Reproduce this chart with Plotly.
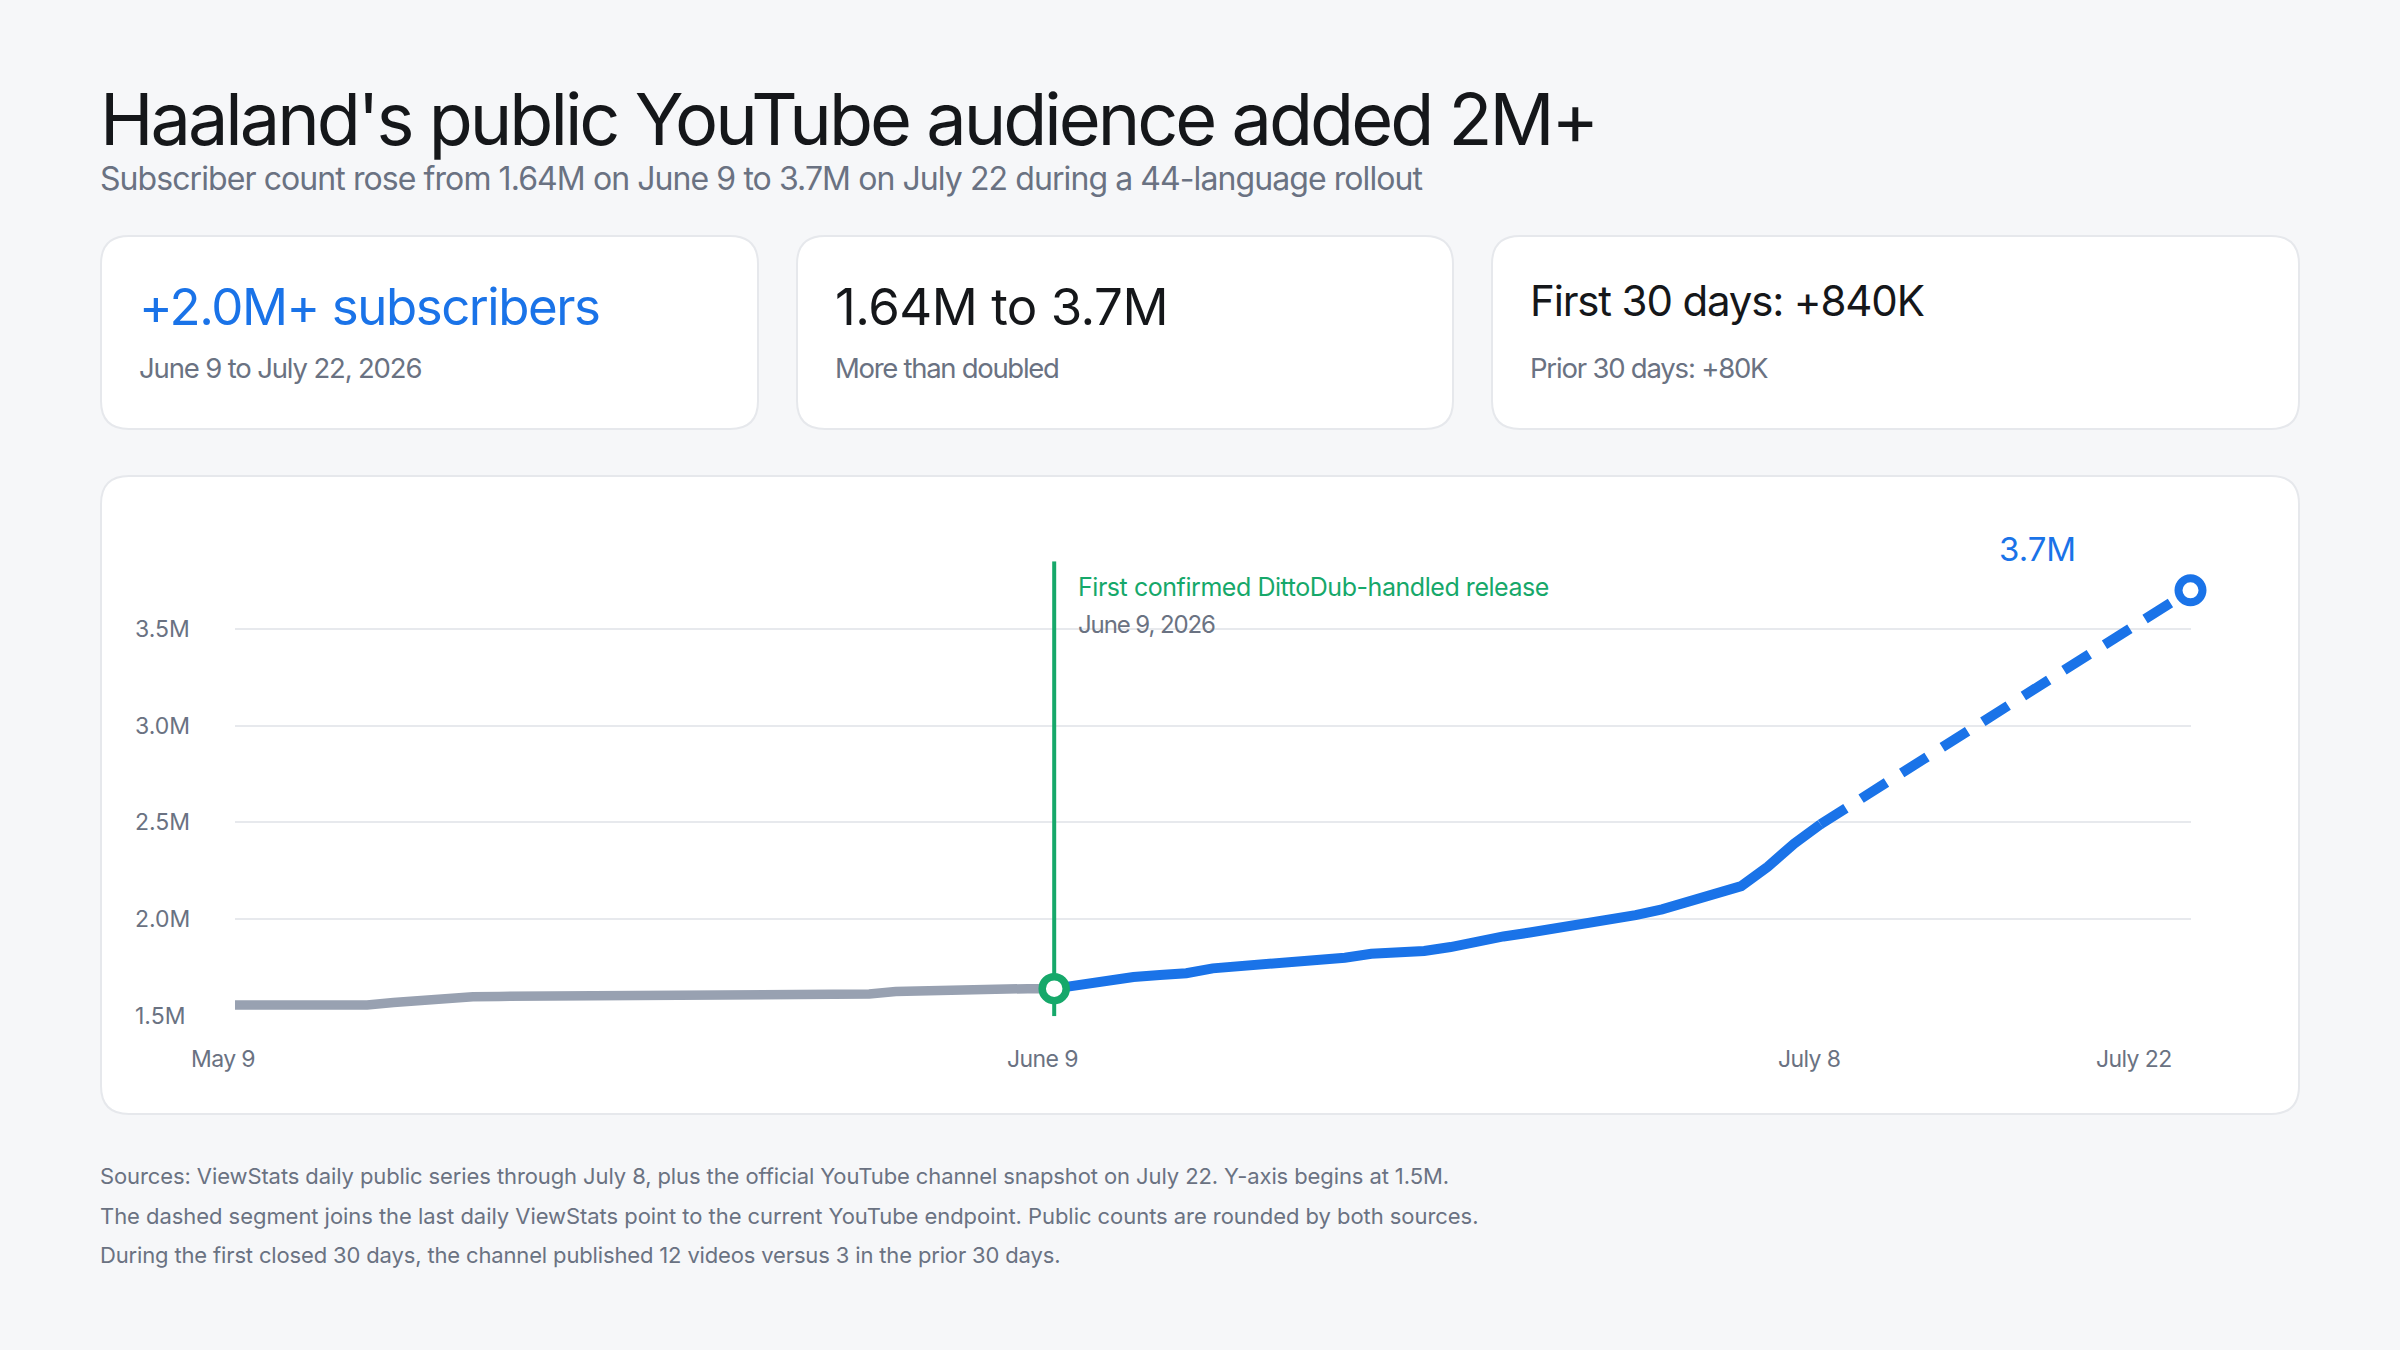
import plotly.graph_objects as go
import pandas as pd

W, H = 2400, 1350

# ---------------- data ----------------
pre_dates = pd.date_range("2026-05-09", "2026-06-09", freq="D")   # ViewStats daily, before release
pre_values = [1.555, 1.555, 1.555, 1.555, 1.555, 1.555, 1.568, 1.580, 1.590, 1.598,
              1.600, 1.600, 1.600, 1.600, 1.600, 1.600, 1.610, 1.610, 1.610, 1.610,
              1.610, 1.610, 1.610, 1.610, 1.612, 1.625, 1.630, 1.630, 1.640, 1.640,
              1.640, 1.640]
post_dates = pd.date_range("2026-06-09", "2026-07-08", freq="D")  # ViewStats daily, after release
post_values = [1.640, 1.660, 1.685, 1.700, 1.710, 1.720, 1.745, 1.755, 1.765, 1.775,
               1.790, 1.800, 1.820, 1.825, 1.835, 1.855, 1.885, 1.910, 1.930, 1.950,
               1.970, 1.990, 2.020, 2.050, 2.090, 2.130, 2.170, 2.270, 2.390, 2.490]
snapshot_dates = ["2026-07-08", "2026-07-22"]   # last daily point -> YouTube snapshot
snapshot_values = [2.49, 3.70]
event_date = "2026-06-09"
event_value = 1.64
end_label = "3.7M"

y_ticks = [1.5, 2.0, 2.5, 3.0, 3.5]
y_tick_labels = ["1.5M", "2.0M", "2.5M", "3.0M", "3.5M"]
x_tick_dates = ["2026-05-09", "2026-06-09", "2026-07-08", "2026-07-22"]
x_tick_labels = ["May 9", "June 9", "July 8", "July 22"]

title = "Haaland's public YouTube audience added 2M+"
subtitle = "Subscriber count rose from 1.64M on June 9 to 3.7M on July 22 during a 44-language rollout"
kpis = [
    ("+2.0M+ subscribers", "June 9 to July 22, 2026"),
    ("1.64M to 3.7M", "More than doubled"),
    ("First 30 days: +840K", "Prior 30 days: +80K"),
]
event_title = "First confirmed DittoDub-handled release"
event_sub = "June 9, 2026"
notes = [
    "Sources: ViewStats daily public series through July 8, plus the official YouTube channel snapshot on July 22. Y-axis begins at 1.5M.",
    "The dashed segment joins the last daily ViewStats point to the current YouTube endpoint. Public counts are rounded by both sources.",
    "During the first closed 30 days, the channel published 12 videos versus 3 in the prior 30 days.",
]

# ---------------- styles ----------------
FONT = "Inter, 'Noto Sans', sans-serif"
BG = "#f6f7f9"
INK = "#15171a"
MUTED = "#6a7282"
BLUE = "#1a73e8"
GRAY_LINE = "#98a1b1"
GREEN = "#16a86a"
GRID = "#e7e9ed"
BORDER = "#e6e8ec"
Y_MIN, Y_MAX = 1.4975, 3.85


def px(x):
    return x / W


def py(y):
    return 1 - y / H


def ls(s, v):
    if not v:
        return s
    return f'<span style="letter-spacing:{v}px">{s}</span>'


def rrect(x0, y0, x1, y1, r):
    pts = [
        f"M {px(x0 + r)},{py(y0)}",
        f"L {px(x1 - r)},{py(y0)}",
        f"Q {px(x1)},{py(y0)} {px(x1)},{py(y0 + r)}",
        f"L {px(x1)},{py(y1 - r)}",
        f"Q {px(x1)},{py(y1)} {px(x1 - r)},{py(y1)}",
        f"L {px(x0 + r)},{py(y1)}",
        f"Q {px(x0)},{py(y1)} {px(x0)},{py(y1 - r)}",
        f"L {px(x0)},{py(y0 + r)}",
        f"Q {px(x0)},{py(y0)} {px(x0 + r)},{py(y0)}",
        "Z",
    ]
    return " ".join(pts)


fig = go.Figure()

# event line (vertical rule spanning the y-axis range)
fig.add_trace(go.Scatter(x=[event_date, event_date], y=[Y_MIN, Y_MAX], mode="lines",
                         line=dict(color=GREEN, width=4), hoverinfo="skip"))
# gray: before release
fig.add_trace(go.Scatter(x=pre_dates, y=pre_values, mode="lines",
                         line=dict(color=GRAY_LINE, width=9.5), hoverinfo="skip",
                         cliponaxis=False))
# blue solid: after release
fig.add_trace(go.Scatter(x=post_dates, y=post_values, mode="lines",
                         line=dict(color=BLUE, width=10), hoverinfo="skip",
                         cliponaxis=False))
# blue dashed to snapshot
fig.add_trace(go.Scatter(x=snapshot_dates, y=snapshot_values, mode="lines",
                         line=dict(color=BLUE, width=10, dash="30px,18px"),
                         hoverinfo="skip", cliponaxis=False))
# endpoint marker
fig.add_trace(go.Scatter(x=[snapshot_dates[-1]], y=[snapshot_values[-1]], mode="markers",
                         marker=dict(size=24, color="white", line=dict(color=BLUE, width=8)),
                         hoverinfo="skip", cliponaxis=False))
# event marker
fig.add_trace(go.Scatter(x=[event_date], y=[event_value], mode="markers",
                         marker=dict(size=24, color="white", line=dict(color=GREEN, width=7.5)),
                         hoverinfo="skip", cliponaxis=False))

shapes = []
cards = [(101, 236, 758, 429), (797, 236, 1453, 429), (1492, 236, 2299, 429)]
for (x0, y0, x1, y1) in cards:
    shapes.append(dict(type="path", path=rrect(x0, y0, x1, y1, 28), xref="paper", yref="paper",
                       fillcolor="white", line=dict(color=BORDER, width=2), layer="below"))
shapes.append(dict(type="path", path=rrect(101, 476, 2299, 1114, 28), xref="paper", yref="paper",
                   fillcolor="white", line=dict(color=BORDER, width=2), layer="below"))

ann = []


def text(x, y, s, size, color, spacing=0, anchor="left"):
    ann.append(dict(x=px(x), y=py(y), xref="paper", yref="paper", text=ls(s, spacing),
                    showarrow=False, xanchor=anchor, yanchor="middle",
                    font=dict(family=FONT, size=size, color=color)))


text(98, 119, title, 72, INK, -3.0)
text(98, 178, subtitle, 32, MUTED, -0.92)

big_sizes = [51, 51, 42]
big_y = [306, 306, 300]
big_colors = [BLUE, INK, INK]
big_sp = [-1.45, -0.5, -1.15]
small_sp = [-1.15, -1.3, -1.2]
for (x0, y0, x1, y1), (big, small), sz, yy, col, bs, ss in zip(
        cards, kpis, big_sizes, big_y, big_colors, big_sp, small_sp):
    text(x0 + 36, yy, big, sz, col, bs)
    text(x0 + 36, 368, small, 27.5, MUTED, ss)

note_sp = [-0.1, -0.05, -0.15]
for i, (n, sp) in enumerate(zip(notes, note_sp)):
    text(98, 1176 + i * 39.7, n, 22, MUTED, sp)

# y tick labels (on the y scale)
for v, lab in zip(y_ticks, y_tick_labels):
    ann.append(dict(x=px(133), y=v, xref="paper", yref="y", text=lab, showarrow=False,
                    xanchor="left", yanchor="middle",
                    font=dict(family=FONT, size=23, color=MUTED)))
# x tick labels (on the x scale)
for i, (d, lab) in enumerate(zip(x_tick_dates, x_tick_labels)):
    last = i == len(x_tick_dates) - 1
    ann.append(dict(x=d, y=py(1059), xref="x", yref="paper", text=ls(lab, -0.6), showarrow=False,
                    xanchor="right" if last else "center", yanchor="middle",
                    xshift=-17 if last else -12,
                    font=dict(family=FONT, size=23, color=MUTED)))

# event annotation
ann.append(dict(x=event_date, y=py(587), xref="x", yref="paper", text=ls(event_title, -0.45),
                showarrow=False, xanchor="left", yanchor="middle", xshift=22,
                font=dict(family=FONT, size=25, color=GREEN)))
ann.append(dict(x=event_date, y=py(624), xref="x", yref="paper", text=ls(event_sub, -1.1),
                showarrow=False, xanchor="left", yanchor="middle", xshift=22,
                font=dict(family=FONT, size=24, color=MUTED)))
# endpoint label
ann.append(dict(x=snapshot_dates[-1], y=snapshot_values[-1], xref="x", yref="y", text=end_label,
                showarrow=False, xanchor="center", yanchor="middle", xshift=-153, yshift=41,
                font=dict(family=FONT, size=33, color=BLUE)))

y_bottom_px, y_top_px = 1015.7, 561.3
fig.update_layout(
    width=W, height=H, autosize=False,
    margin=dict(l=0, r=0, t=0, b=0),
    paper_bgcolor=BG, plot_bgcolor="rgba(0,0,0,0)",
    showlegend=False,
    font=dict(family=FONT),
    xaxis=dict(type="date", range=["2026-05-09", "2026-07-22"],
               domain=[px(235), px(2190.5)], showgrid=False, zeroline=False,
               showline=False, showticklabels=False, ticks="", fixedrange=True),
    yaxis=dict(range=[Y_MIN, Y_MAX], domain=[py(y_bottom_px + 0.5), py(y_top_px)],
               tickvals=y_ticks, showticklabels=False, showgrid=True,
               gridcolor=GRID, gridwidth=2, zeroline=False, showline=False,
               ticks="", fixedrange=True),
    shapes=shapes,
    annotations=ann,
)

fig.write_html("out.html", config={"displayModeBar": False})
